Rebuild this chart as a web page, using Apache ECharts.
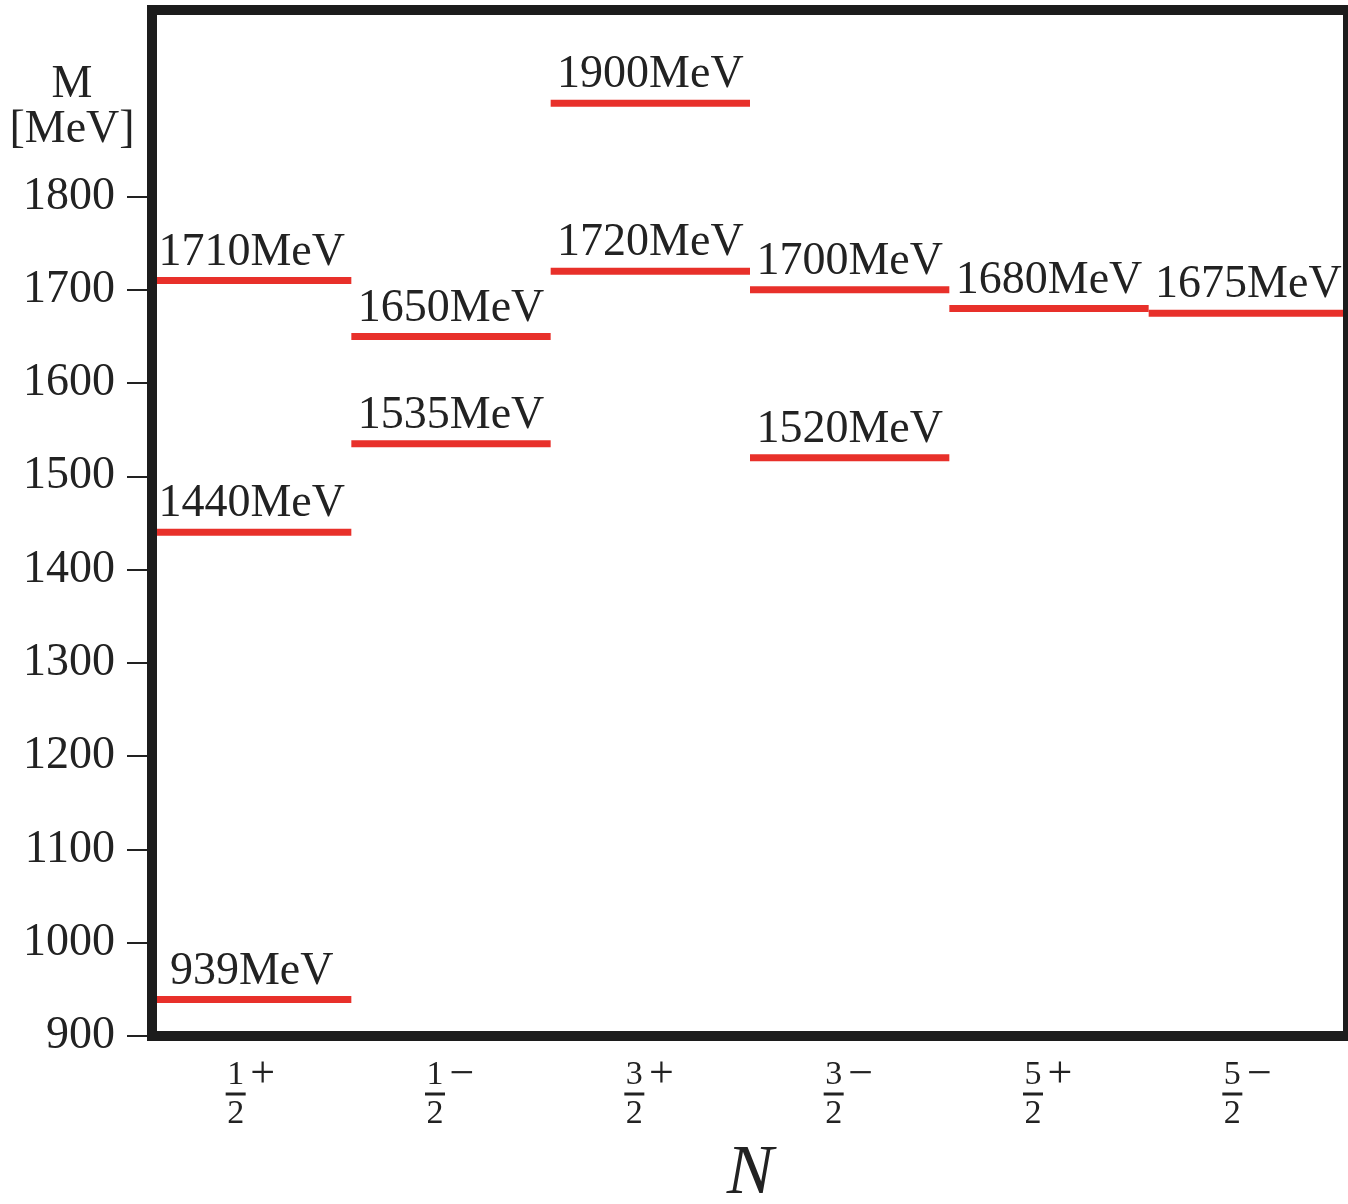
<!DOCTYPE html>
<html>
<head>
<meta charset="utf-8">
<script src="https://cdn.jsdelivr.net/npm/echarts@6/dist/echarts.min.js"></script>
<style>
  html, body { margin: 0; padding: 0; background: #ffffff; }
  #chart { width: 1348px; height: 1204px; }
</style>
</head>
<body>
<div id="chart"></div>
<script>
// Nucleon (N) spectrum: spin-parity channels and resonance masses in MeV
const spinParity = ['1/2+', '1/2-', '3/2+', '3/2-', '5/2+', '5/2-'];
const levelChannel = [0, 0, 0, 1, 1, 2, 2, 3, 3, 4, 5];
const levelMass = [939, 1440, 1710, 1535, 1650, 1720, 1900, 1520, 1700, 1680, 1675];
const massTicks = [900, 1000, 1100, 1200, 1300, 1400, 1500, 1600, 1700, 1800];

const SERIF = '"Liberation Serif", "DejaVu Serif", serif';
const INK = '#222222';
const LEVEL_RED = '#e8302a';

const levels = levelChannel.map((c, i) => [c, levelMass[i]]);

// One horizontal level per resonance, spanning its whole channel column
function renderLevel(params, api) {
  const cat = api.value(0);
  const mass = api.value(1);
  const p = api.coord([cat, mass]);
  const w = api.size([1, 0])[0];
  return {
    type: 'group',
    children: [
      {
        type: 'rect',
        shape: { x: p[0] - w / 2, y: p[1] - 3.5, width: w, height: 7 },
        style: { fill: LEVEL_RED }
      },
      {
        type: 'text',
        style: {
          text: mass + 'MeV',
          x: p[0],
          y: p[1] - 28,
          align: 'center',
          verticalAlign: 'middle',
          textAlign: 'center',
          textVerticalAlign: 'middle',
          font: '46px ' + SERIF,
          fill: INK
        }
      }
    ]
  };
}

// J^P label drawn as a stacked fraction with the parity sign as superscript
function spinLabel(v) {
  const sign = v.slice(-1) === '+' ? '+' : '\u2212';
  const frac = v.slice(0, -1).split('/');
  return '{n|' + frac[0] + '}{s|' + sign + '}\n{b|}{g|}\n{d|' + frac[1] + '}{g|}';
}

const chart = echarts.init(document.getElementById('chart'), null, { renderer: 'canvas' });

chart.setOption({
  animation: false,
  backgroundColor: '#ffffff',
  grid: {
    left: 152, right: 0, top: 10, bottom: 168,
    outerBoundsMode: 'none',
    containLabel: false,
    show: true,
    z: 5,
    borderColor: '#1c1c1c',
    borderWidth: 10,
    backgroundColor: 'transparent'
  },
  xAxis: {
    type: 'category',
    data: spinParity,
    boundaryGap: true,
    axisLine: { show: false },
    axisTick: { show: false },
    splitLine: { show: false },
    name: 'N',
    nameLocation: 'middle',
    nameGap: 104,
    nameTextStyle: {
      fontFamily: SERIF, fontStyle: 'italic', fontSize: 70, color: INK
    },
    axisLabel: {
      interval: 0,
      margin: 24,
      formatter: spinLabel,
      rich: {
        n: { fontFamily: SERIF, fontSize: 34, color: INK, width: 22, align: 'center', lineHeight: 30 },
        s: { fontFamily: SERIF, fontSize: 44, color: INK, width: 32, align: 'center', lineHeight: 30 },
        b: { width: 20, height: 3, backgroundColor: INK, align: 'center', lineHeight: 8 },
        g: { width: 32, height: 1, align: 'center', lineHeight: 8 },
        d: { fontFamily: SERIF, fontSize: 34, color: INK, width: 22, align: 'center', lineHeight: 32 }
      }
    }
  },
  yAxis: {
    type: 'value',
    min: 900,
    max: 2000,
    interval: 100,
    splitLine: { show: false },
    axisLine: { show: false },
    axisTick: {
      show: true,
      length: 25,
      customValues: massTicks,
      lineStyle: { color: INK, width: 2 }
    },
    axisLabel: {
      customValues: massTicks,
      formatter: (v) => String(v),
      margin: 37,
      fontFamily: SERIF,
      fontSize: 46,
      color: INK
    }
  },
  graphic: [
    {
      type: 'text',
      x: 72,
      y: 107,
      style: {
        text: 'M\n[MeV]',
        font: '46px ' + SERIF,
        lineHeight: 45,
        fill: INK,
        align: 'center',
        verticalAlign: 'middle',
        textAlign: 'center',
        textVerticalAlign: 'middle'
      }
    }
  ],
  series: [
    {
      type: 'custom',
      renderItem: renderLevel,
      data: levels,
      encode: { x: 0, y: 1 },
      clip: false,
      z: 2
    }
  ]
});
</script>
</body>
</html>
